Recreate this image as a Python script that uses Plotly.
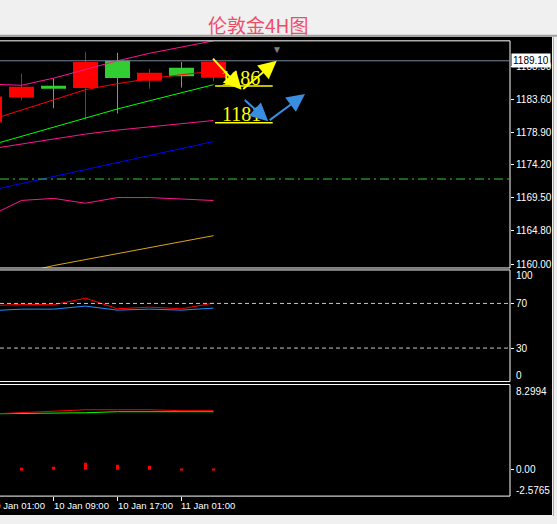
import plotly.graph_objects as go

W, H = 557, 524

# 4H bars (index 0 is partly off the left edge)
times = ['10 Jan 01:00', '10 Jan 05:00', '10 Jan 09:00', '10 Jan 13:00',
         '10 Jan 17:00', '10 Jan 21:00', '11 Jan 01:00', '11 Jan 05:00']
opens = [1184.00, 1185.40, 1185.11, 1188.92, 1186.64, 1187.39, 1186.87, 1188.96]
highs = [1184.60, 1187.25, 1186.58, 1190.38, 1190.24, 1187.96, 1188.92, 1189.00]
lows = [1179.80, 1183.45, 1182.31, 1180.74, 1181.55, 1185.11, 1185.26, 1186.15]
closes = [1180.30, 1183.83, 1185.54, 1185.21, 1189.10, 1186.25, 1188.11, 1186.68]

# moving averages / envelopes on the price window
env_upper = [1185.75, 1185.60, 1186.61, 1187.82, 1189.10, 1190.17, 1191.10, 1191.95]
ma_red = [1180.60, 1182.07, 1183.52, 1184.97, 1185.83, 1186.54, 1187.11, 1187.61]
ma_green = [1176.99, 1178.30, 1179.63, 1180.95, 1182.21, 1183.38, 1184.54, 1185.68]
env_mid = [1176.48, 1177.19, 1177.91, 1178.62, 1179.19, 1179.64, 1180.10, 1180.56]
ma_blue = [1170.54, 1171.54, 1172.55, 1173.55, 1174.54, 1175.56, 1176.55, 1177.56]
env_lower = [1166.88, 1169.13, 1169.42, 1168.73, 1169.54, 1169.54, 1169.33, 1169.12]
ma_orange = [1157.92, 1158.77, 1159.81, 1160.67, 1161.52, 1162.38, 1163.23, 1164.09]

price_now = 1189.10
level_line = 1172.19
price_ticks = [1160.00, 1164.80, 1169.50, 1174.20, 1178.90, 1183.60, 1188.30]

# oscillator window (0-100)
osc_red = [67.9, 69.2, 68.8, 74.7, 65.2, 66.7, 65.2, 70.3]
osc_blue = [63.4, 64.9, 64.9, 67.6, 64.0, 64.9, 64.0, 65.8]
osc_levels = [30, 70]

# bottom window
low_main = [5.44, 5.46, 5.46, 5.55, 5.65, 5.65, 5.65, 5.65]
low_signal = [5.42, 5.55, 5.65, 5.84, 5.84, 5.84, 5.75, 5.75]
low_hist = [0.15, 0.19, 0.29, 0.68, 0.49, 0.39, 0.10, 0.10]
low_min, low_max = -2.5765, 8.2994

# hand drawn analysis: levels + arrows (x in bar index, y in price)
level_text = ['1186', '1181']
level_text_x = [7.84, 7.89]
level_text_y = [1186.68, 1181.55]
level_under_y = [1185.50, 1180.23]
level_under_x = [7.05, 8.85]
yellow_tail = [(6.94, 1189.63), (7.88, 1184.87)]
yellow_tip = [(7.88, 1184.97), (8.975, 1189.10)]
blue_tail = [(7.93, 1183.69), (8.71, 1180.46)]
blue_tip = [(8.71, 1180.46), (9.86, 1184.36)]
shift_x = 8.975

idx = list(range(len(times)))
XR = [0.328, 16.266]
XD = 510 / W


def ydom(top, bot):
    return [1 - bot / H, 1 - top / H]


def xpaper(i):
    return (i - XR[0]) / (XR[1] - XR[0]) * XD


fig = go.Figure()

# candle wicks
for col, up in (('#32cd32', True), ('#ff0000', False)):
    wx, wy = [], []
    for i in idx:
        if (closes[i] >= opens[i]) == up:
            wx += [i, i, None]
            wy += [lows[i], highs[i], None]
    fig.add_trace(go.Scatter(x=wx, y=wy, mode='lines', line=dict(color=col, width=1),
                             hoverinfo='skip', xaxis='x', yaxis='y'))

# candle bodies
fig.add_trace(go.Bar(
    x=idx, base=[min(o, c) for o, c in zip(opens, closes)],
    y=[abs(c - o) for o, c in zip(opens, closes)], width=0.78,
    marker=dict(color=['#32cd32' if c >= o else '#ff0000' for o, c in zip(opens, closes)],
                line=dict(width=0)),
    hoverinfo='skip', xaxis='x', yaxis='y'))

for vals, col in ((env_upper, '#ff1493'), (ma_red, '#ff0000'), (ma_green, '#00ff00'),
                  (env_mid, '#ff1493'), (ma_blue, '#0000ff'), (env_lower, '#ff1493'),
                  (ma_orange, '#daa520')):
    fig.add_trace(go.Scatter(x=idx, y=vals, mode='lines', line=dict(color=col, width=1),
                             hoverinfo='skip', xaxis='x', yaxis='y'))

for vals, col in ((osc_blue, '#1e90ff'), (osc_red, '#ff0000')):
    fig.add_trace(go.Scatter(x=idx, y=vals, mode='lines', line=dict(color=col, width=1),
                             hoverinfo='skip', xaxis='x2', yaxis='y2'))

fig.add_trace(go.Bar(x=idx, y=low_hist, width=0.094, marker=dict(color='#ff0000', line=dict(width=0)),
                     hoverinfo='skip', xaxis='x3', yaxis='y3'))
for vals, col in ((low_main, '#00ff00'), (low_signal, '#ff0000')):
    fig.add_trace(go.Scatter(x=idx, y=vals, mode='lines', line=dict(color=col, width=1),
                             hoverinfo='skip', xaxis='x3', yaxis='y3'))

tickfont = dict(family='Liberation Sans, Arial', size=10, color='white')
yax = dict(side='right', showgrid=False, zeroline=False, ticks='outside', ticklen=3,
           tickcolor='white', tickfont=tickfont, fixedrange=True)
xax = dict(range=XR, domain=[0, XD], showgrid=False, zeroline=False, showticklabels=False)

dom_main, dom_osc, dom_low = ydom(41, 269), ydom(271, 383), ydom(386, 498)

fig.update_layout(
    width=W, height=H, margin=dict(l=0, r=0, t=0, b=0),
    paper_bgcolor='#f0f0f0', plot_bgcolor='black', showlegend=False, barmode='overlay',
    xaxis=dict(xax, anchor='y'),
    xaxis2=dict(xax, anchor='y2', matches='x'),
    xaxis3=dict(xax, anchor='y3', matches='x', ticks='outside', ticklen=4, tickcolor='white',
                tickvals=[2, 4, 6]),
    yaxis=dict(yax, domain=dom_main, range=[1159.47, 1191.95], anchor='x',
               tickvals=price_ticks, ticktext=['%.2f' % v for v in price_ticks]),
    yaxis2=dict(yax, domain=dom_osc, range=[0, 100], anchor='x2',
                tickvals=osc_levels, ticktext=[str(v) for v in osc_levels]),
    yaxis3=dict(yax, domain=dom_low, range=[low_min, low_max], anchor='x3',
                tickvals=[0], ticktext=['0.00']),
)

shapes = [
    # chart window and separator
    dict(type='rect', xref='paper', yref='paper', x0=0, x1=552 / W, y0=1 - 517 / H, y1=1 - 37 / H,
         fillcolor='black', line=dict(width=0), layer='below'),
    dict(type='line', xref='paper', yref='paper', x0=0, x1=1, y0=1 - 36 / H, y1=1 - 36 / H,
         line=dict(color='#a0a0a0', width=2)),
    dict(type='line', xref='paper', yref='paper', x0=553.5 / W, x1=553.5 / W, y0=1 - 518 / H, y1=1 - 37 / H,
         line=dict(color='#8fb4e0', width=1)),
]
for d in (dom_main, dom_osc, dom_low):
    shapes.append(dict(type='rect', xref='paper', yref='paper', x0=-0.01, x1=XD, y0=d[0], y1=d[1],
                       line=dict(color='white', width=1)))
shapes.append(dict(type='line', xref='paper', yref='y', x0=0, x1=XD, y0=price_now, y1=price_now,
                   line=dict(color='#778899', width=1)))
shapes.append(dict(type='line', xref='paper', yref='y', x0=0, x1=XD, y0=level_line, y1=level_line,
                   line=dict(color='#32cd32', width=1, dash='9px,4px,2px,4px')))
for v in osc_levels:
    shapes.append(dict(type='line', xref='paper', yref='y2', x0=0, x1=XD, y0=v, y1=v,
                       line=dict(color='#c8c8c8', width=1, dash='4px,3px')))
for v in level_under_y:
    shapes.append(dict(type='line', xref='x', yref='y', x0=level_under_x[0], x1=level_under_x[1],
                       y0=v, y1=v, line=dict(color='#ffff00', width=1.5)))
fig.update_layout(shapes=shapes)

ann = [dict(text='伦敦金4H图', xref='paper', yref='paper', x=257.5 / W, y=1 - 25 / H,
            xanchor='center', yanchor='middle',
            showarrow=False, font=dict(family='Noto Sans CJK SC', size=19, color='#ee4d6a')),
       dict(text=f'{price_now:.2f}', xref='paper', yref='y', x=511 / W, y=price_now, xanchor='left',
            showarrow=False, bgcolor='white', borderpad=1,
            font=dict(family='Liberation Sans, Arial', size=10, color='black')),
       dict(text='▼', xref='x', yref='y domain', x=shift_x, y=1.004, yanchor='top', showarrow=False,
            font=dict(size=10, color='#808080'))]
# edge labels of the sub windows sit inside the window
for ref, val, txt, sh in (('y2', 100, '100', -6), ('y2', 0, '0', 6),
                          ('y3', low_max, f'{low_max:.4f}', -7), ('y3', low_min, f'{low_min:.4f}', 6)):
    ann.append(dict(text=txt, xref='paper', yref=ref, x=514 / W, y=val, xanchor='left', yshift=sh,
                    showarrow=False, font=tickfont))
for i in (0, 2, 4, 6):
    ann.append(dict(text=times[i], xref='paper', yref='paper', x=xpaper(i), y=1 - 507 / H,
                    xanchor='left', yanchor='middle', xshift=-2, showarrow=False,
                    font=dict(tickfont, size=9.5)))
for t, tx, ty in zip(level_text, level_text_x, level_text_y):
    ann.append(dict(text=t, xref='x', yref='y', x=tx, y=ty, showarrow=False,
                    font=dict(family='Liberation Serif, Times New Roman', size=20, color='#ffff00')))
for tails, tips, col in ((yellow_tail, yellow_tip, '#ffff00'), (blue_tail, blue_tip, '#3a8ee0')):
    for (ax_, ay_), (x_, y_) in zip(tails, tips):
        ann.append(dict(text='', x=x_, y=y_, ax=ax_, ay=ay_, xref='x', yref='y', axref='x', ayref='y',
                        showarrow=True, arrowhead=2, arrowsize=1.8, arrowwidth=2,
                        arrowcolor=col, standoff=0, startstandoff=0))
fig.update_layout(annotations=ann)

fig.write_html("out.html", config={'displayModeBar': False},
               post_script="document.body.style.margin='0';document.body.style.overflow='hidden';")
